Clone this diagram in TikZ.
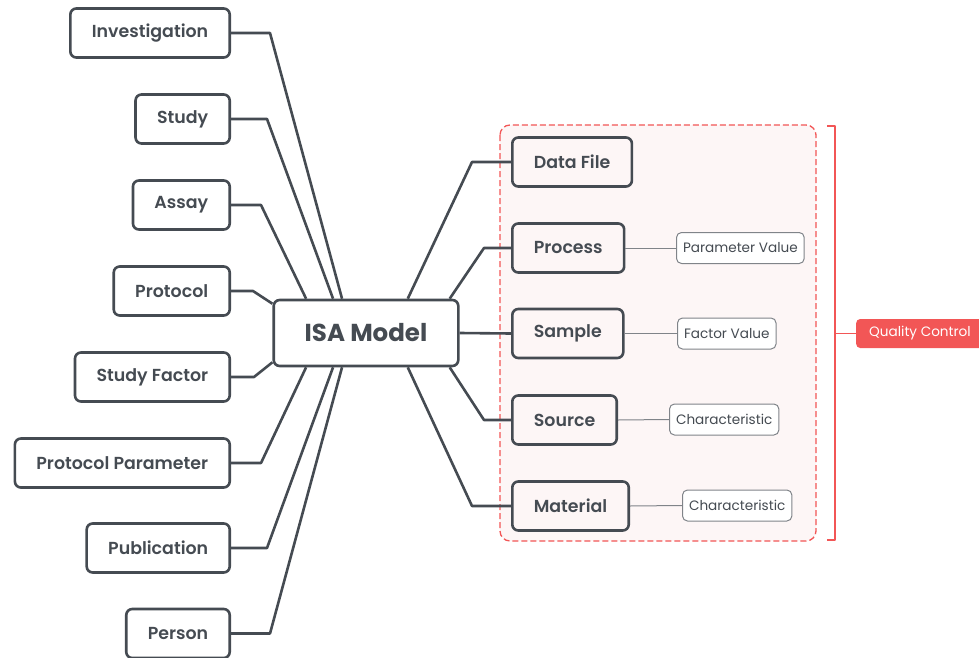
\documentclass[tikz,border=0pt]{standalone}
\usepackage{fontspec}
\setmainfont{Poppins}
\newfontfamily\medfont{Poppins SemiBold}
\usetikzlibrary{calc}
\definecolor{ink}{HTML}{454B52}
\definecolor{qcred}{HTML}{F25656}
\definecolor{qcpink}{HTML}{FDF6F6}
\definecolor{leafgray}{HTML}{808489}
\begin{document}
\begin{tikzpicture}[x=1pt, y=-1pt, line join=round,
  entity/.style={draw=ink, fill=white, line width=2.6pt, rounded corners=6pt, minimum height=49pt, inner xsep=21.5pt, text=ink, font=\medfont\fontsize{17.4}{20}\selectfont},
  core/.style={entity, minimum height=66pt, inner xsep=31pt, font=\bfseries\fontsize{24.5}{28}\selectfont},
  attr/.style={draw=leafgray, fill=white, line width=1pt, rounded corners=5pt, minimum height=31pt, inner xsep=6.5pt, text=ink, font=\fontsize{13.6}{16}\selectfont},
  link/.style={draw=ink, line width=2.6pt},
  leaf link/.style={draw=leafgray, line width=1pt}]
\useasboundingbox (0,0) rectangle (979,658);

% dashed group behind the right branch
\draw [qcred, dashed, line width=1.3pt, fill=qcpink, rounded corners=10pt, dash pattern=on 6pt off 3pt] (500,125) rectangle (816,541);

\node [core] (isa) at (366,333) {ISA Model};

% left branch
\node [entity, anchor=east] (inv) at (231,33) {Investigation};
\node [entity, anchor=east] (study) at (231,119) {Study};
\node [entity, anchor=east] (assay) at (231,205) {Assay};
\node [entity, anchor=east] (prot) at (231,291) {Protocol};
\node [entity, anchor=east] (sfac) at (231,377) {Study Factor};
\node [entity, anchor=east] (ppar) at (231,463) {Protocol Parameter};
\node [entity, anchor=east] (pub) at (231,548) {Publication};
\node [entity, anchor=east] (person) at (231,633.5) {Person};

% right branch
\node [entity, fill=qcpink, anchor=west] (data) at (511,162) {Data File};
\node [entity, fill=qcpink, anchor=west] (proc) at (511,248) {Process};
\node [entity, fill=qcpink, anchor=west] (sample) at (511,333.5) {Sample};
\node [entity, fill=qcpink, anchor=west] (source) at (511,420) {Source};
\node [entity, fill=qcpink, anchor=west] (mat) at (511,506) {Material};

\node [attr, anchor=west] (pval) at (676,248) {Parameter Value};
\node [attr, anchor=west] (fval) at (677,333.5) {Factor Value};
\node [attr, anchor=west] (char1) at (669,419.5) {Characteristic};
\node [attr, anchor=west] (char2) at (682,505.5) {Characteristic};

\node [fill=qcred, text=white, rounded corners=4pt, minimum height=29pt, inner xsep=13pt, anchor=west, font=\fontsize{13.6}{16}\selectfont] (qc) at (856,333.5) {Quality Control};

% connectors on the left
\draw [link] (inv.east) -- ++(39,0) -- ($(isa.north west)!.372!(isa.north east)$);
\draw [link] (study.east) -- ++(36,0) -- ($(isa.north west)!.324!(isa.north east)$);
\draw [link] (assay.east) -- ++(30,0) -- ($(isa.north west)!.18!(isa.north east)$);
\draw [link] (prot.east) -- ++(22,0) -- ($(isa.north west)+(0,5)$);
\draw [link] (sfac.east) -- ++(23,0) -- ($(isa.south west)+(0,-5)$);
\draw [link] (ppar.east) -- ++(30,0) -- ($(isa.south west)!.18!(isa.south east)$);
\draw [link] (pub.east) -- ++(36,0) -- ($(isa.south west)!.324!(isa.south east)$);
\draw [link] (person.east) -- ++(39,0) -- ($(isa.south west)!.372!(isa.south east)$);

% connectors on the right
\draw [link] ($(isa.north west)!.723!(isa.north east)$) -- ($(data.west)+(-39,0)$) -- (data.west);
\draw [link] ($(isa.north west)!.947!(isa.north east)$) -- ($(proc.west)+(-27,0)$) -- (proc.west);
\draw [link] (isa.east) -- (sample.west);
\draw [link] ($(isa.south west)!.947!(isa.south east)$) -- ($(source.west)+(-27,0)$) -- (source.west);
\draw [link] ($(isa.south west)!.723!(isa.south east)$) -- ($(mat.west)+(-39,0)$) -- (mat.west);

\draw [leaf link] (proc.east) -- (pval.west);
\draw [leaf link] (sample.east) -- (fval.west);
\draw [leaf link] (source.east) -- (char1.west);
\draw [leaf link] (mat.east) -- (char2.west);

% bracket to the quality control label
\coordinate (brace) at (835,333.5);
\draw [qcred, line width=1.3pt] (827,126) -- (835,126) -- (835,540) -- (827,540);
\draw [qcred, line width=1.3pt] (brace) -- (qc.west);
\end{tikzpicture}
\end{document}
